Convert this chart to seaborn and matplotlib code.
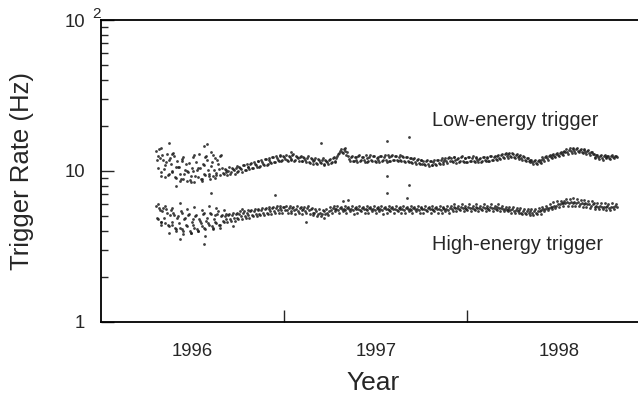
import numpy as np
import pandas as pd
import matplotlib
matplotlib.use("Agg")
import matplotlib.pyplot as plt
import seaborn as sns

# ---------------- data ----------------
start_year = 1996.30
step = 0.01          # readings every 0.01 yr; "b" readings sit half a step later

low_rate_a = [
    13.6, 10.4, 12.2, 9.3, 11.8, 10.9, 13.0, 9.6, 11.1, 9.9, 12.5, 9.0, 10.6, 9.5, 11.7, 8.9, 10.2, 8.6,
    11.3, 9.3, 10.0, 8.5, 11.5, 9.1, 10.4, 8.8, 10.9, 9.4, 11.8, 9.6, 10.8, 9.2, 12.2, 9.7, 11.2, 9.4,
    10.4, 9.5, 10.1, 9.4, 10.6, 9.8, 10.3, 9.6, 10.8, 10.0, 10.5, 9.9, 11.0, 10.2, 10.7, 10.3, 11.3, 10.5,
    11.1, 10.6, 11.6, 10.8, 11.4, 11.0, 12.0, 11.1, 11.8, 11.3, 12.4, 11.5, 12.1, 11.6, 12.7, 11.8, 12.3,
    12.8, 11.7, 12.4, 11.9, 12.9, 11.8, 12.3, 11.6, 12.6, 11.7, 12.2, 11.4, 12.5, 11.3, 12.0, 11.2, 12.2, 11.1,
    11.8, 11.3, 12.1, 11.0, 11.7, 11.2, 12.0, 11.4, 12.3, 11.6,
    12.5, 13.2, 13.9, 13.2, 14.1, 12.8, 12.6, 11.7,
    12.5, 11.6, 12.3, 11.5, 12.7, 11.8, 12.4, 11.4, 12.2, 11.7, 12.8, 11.6, 12.5, 11.5, 12.3, 11.4, 12.6, 11.8,
    12.7, 11.5, 12.4, 11.7, 12.8, 11.8, 12.5, 11.6, 12.7, 11.7, 12.4, 11.5, 12.3, 11.4, 12.2, 11.3, 12.1, 11.2,
    12.0, 11.1, 11.9,
    11.7, 10.9, 11.8, 10.8, 11.6, 11.0, 11.9, 10.9, 11.8, 11.2, 12.1, 11.2, 12.2, 11.3, 12.4,
    12.2, 11.5, 12.4, 11.3, 12.1, 11.6, 12.5, 11.4, 12.2, 11.5, 12.3, 11.6, 12.5, 11.4, 12.2, 11.5, 12.1, 11.6,
    12.4, 11.7, 12.3, 11.6, 12.5, 11.8, 12.6, 11.9, 12.7, 12.0,
    12.9, 12.1, 13.1, 12.2, 13.2, 12.3, 13.0, 12.2, 12.9, 12.0, 12.7, 11.9, 12.4, 11.7, 12.1, 11.4,
    11.8, 11.2, 11.9, 11.1, 11.8, 11.3,
    12.3, 11.7, 12.5, 11.9, 12.7, 12.1, 12.9, 12.3, 13.1, 12.5, 13.3, 12.8, 13.5,
    13.9, 13.0, 14.1, 13.2, 14.3, 13.1, 14.2, 13.3, 14.0, 13.1, 13.9, 12.9, 13.7, 12.8, 13.4,
    12.9, 12.1, 12.8, 12.0, 12.7, 11.9, 12.8, 12.1, 12.6, 12.0, 12.7, 12.1, 12.6,
]

low_rate_b = [
    11.9, 14.0, 9.8, 12.7, 10.3, 11.5, 9.4, 12.1, 10.0, 13.1, 9.1, 11.6, 10.7, 8.8, 12.0, 9.6, 11.2, 9.9,
    8.7, 10.5, 12.4, 9.2, 10.1, 12.9, 8.9, 11.1, 9.5, 12.6, 10.1, 8.8, 11.4, 10.2, 9.0, 11.9, 10.3, 12.8,
    9.7, 10.3, 9.9, 10.0, 9.6, 10.4, 10.1, 10.5, 9.8, 10.7, 10.3, 10.9, 10.1, 11.1, 10.6, 11.2, 10.4, 11.5,
    10.9, 11.6, 10.7, 11.8, 11.2, 12.0, 11.0, 12.2, 11.5, 12.3, 11.4, 12.5, 11.8, 12.6, 11.7, 12.6, 12.0,
    11.8, 12.6, 12.0, 12.7, 11.7, 12.5, 12.1, 12.4, 11.6, 12.3, 11.8, 12.2, 11.5, 12.1, 11.6, 11.9, 11.3, 12.0,
    11.5, 11.8, 11.2, 11.9, 11.4, 11.8, 11.3, 12.1, 11.5, 12.2,
    12.9, 13.5, 13.4, 14.0, 13.6, 13.3, 12.0, 12.3,
    11.7, 12.4, 11.9, 12.6, 11.6, 12.3, 11.9, 12.7, 11.5, 12.4, 11.8, 12.6, 11.7, 12.2, 11.9, 12.5, 11.6, 12.4,
    11.9, 12.7, 11.6, 12.5, 11.8, 12.6, 11.9, 12.4, 11.8, 12.5, 11.6, 12.3, 11.7, 12.1, 11.5, 12.0, 11.4, 11.9,
    11.3, 11.8, 11.2,
    11.1, 11.6, 11.2, 11.7, 11.0, 11.5, 11.1, 11.8, 11.3, 11.9, 11.4, 11.9, 11.6, 12.1, 11.7,
    11.6, 12.3, 11.8, 12.0, 11.4, 12.4, 11.7, 12.1, 11.5, 12.3, 11.7, 12.2, 11.6, 12.4, 11.8, 12.0, 11.5, 12.3,
    11.8, 12.2, 11.7, 12.5, 11.9, 12.4, 12.0, 12.6, 12.2, 12.8,
    12.4, 12.9, 12.5, 13.0, 12.6, 13.1, 12.4, 12.8, 12.3, 12.6, 12.1, 12.5, 11.8, 12.2, 11.6, 11.9,
    11.4, 11.7, 11.3, 11.6, 11.4, 11.9,
    12.0, 12.4, 12.2, 12.6, 12.4, 12.8, 12.6, 13.0, 12.8, 13.2, 13.0, 13.4, 13.3,
    13.4, 13.8, 13.5, 13.9, 13.6, 14.0, 13.5, 13.8, 13.4, 13.7, 13.3, 13.5, 13.2, 13.3, 13.0,
    12.4, 12.7, 12.3, 12.6, 12.2, 12.5, 12.3, 12.6, 12.2, 12.5, 12.3, 12.5, 12.4,
]

high_rate_a = [
    5.9, 4.8, 5.5, 4.6, 5.7, 4.5, 5.3, 4.3, 5.5, 4.4, 5.1, 4.1, 5.0, 4.2, 5.3, 4.0, 4.9, 4.3,
    5.2, 3.9, 4.8, 4.2, 5.1, 4.0, 4.7, 4.3, 5.3, 4.1, 4.9, 4.4, 5.2, 4.2, 5.1, 4.5, 5.4, 4.4,
    5.1, 4.6, 5.2, 4.6, 5.2, 4.7, 5.3, 4.7, 5.3, 4.8, 5.4, 4.8, 5.4, 4.9, 5.5, 4.9, 5.5, 5.0,
    5.6, 5.0, 5.6, 5.1, 5.7, 5.1, 5.7, 5.2, 5.8, 5.2, 5.8, 5.3, 5.9, 5.3, 5.9, 5.3, 5.8,
    5.9, 5.3, 5.9, 5.3, 5.8, 5.2, 5.9, 5.3, 5.8, 5.2, 5.8, 5.3, 5.9, 5.2, 5.7,
    5.1, 5.6, 5.0, 5.6, 5.0, 5.5, 4.9, 5.6, 5.1,
    5.8, 5.3, 5.9, 5.4, 5.9, 5.3, 5.8, 5.4, 5.9, 5.3,
    5.8, 5.4, 5.9, 5.2, 5.8, 5.3, 5.9, 5.4, 5.8, 5.3,
    5.9, 5.3, 5.8, 5.4, 5.9, 5.3, 5.8, 5.4, 5.9, 5.2,
    5.8, 5.3, 5.9, 5.4, 5.8, 5.3, 5.9, 5.4, 5.8, 5.3,
    5.9, 5.3, 5.8, 5.4, 5.9, 5.3, 5.8, 5.4, 5.9, 5.3,
    5.8, 5.3, 5.9, 5.4, 5.8, 5.3, 5.9, 5.4, 5.8, 5.3,
    5.9, 5.3, 5.8, 5.4, 5.9, 5.3,
    5.9, 5.4, 6.0, 5.4, 5.9, 5.5, 6.0, 5.4, 5.9, 5.5, 6.0, 5.4, 5.9, 5.5, 6.0, 5.4, 5.9, 5.5,
    6.0, 5.4, 5.9, 5.5, 6.0, 5.4, 5.9, 5.5, 6.0, 5.4, 5.9, 5.4, 5.8, 5.4, 5.8, 5.3, 5.8, 5.3,
    5.7, 5.3, 5.7, 5.2, 5.6, 5.2, 5.6,
    5.1, 5.6, 5.1, 5.6, 5.2, 5.7, 5.2,
    5.8, 5.4, 5.9, 5.5, 6.0, 5.6, 6.2, 5.7, 6.3, 5.8, 6.3, 5.9, 6.3,
    6.5, 5.9, 6.5, 5.9, 6.6, 5.9, 6.5, 5.9, 6.4, 5.8, 6.4, 5.8, 6.3, 5.7, 6.3,
    6.1, 5.6, 6.1, 5.6, 6.1, 5.6, 6.1, 5.5, 6.0, 5.5, 6.1, 5.6, 6.0,
]

high_rate_b = [
    4.9, 5.7, 4.6, 5.4, 4.9, 5.6, 4.4, 5.1, 4.6, 5.3, 4.2, 4.9, 4.5, 5.4, 4.1, 4.8, 4.4, 5.1,
    4.0, 4.6, 4.4, 5.0, 4.1, 4.8, 4.5, 5.2, 4.2, 4.7, 4.5, 5.3, 4.3, 4.8, 4.6, 5.2, 4.4, 5.0,
    4.7, 5.0, 4.8, 5.1, 4.8, 5.1, 4.9, 5.2, 4.9, 5.2, 5.0, 5.3, 5.0, 5.3, 5.1, 5.4, 5.1, 5.4,
    5.2, 5.5, 5.2, 5.5, 5.3, 5.6, 5.3, 5.6, 5.4, 5.7, 5.4, 5.7, 5.5, 5.7, 5.5, 5.8, 5.5,
    5.5, 5.7, 5.4, 5.7, 5.5, 5.6, 5.4, 5.7, 5.5, 5.6, 5.4, 5.7, 5.5, 5.6, 5.3,
    5.3, 5.4, 5.2, 5.3, 5.2, 5.4, 5.2, 5.3, 5.4,
    5.5, 5.7, 5.6, 5.6, 5.5, 5.7, 5.6, 5.6, 5.5, 5.7,
    5.6, 5.6, 5.5, 5.7, 5.6, 5.6, 5.5, 5.7, 5.6, 5.6,
    5.5, 5.7, 5.6, 5.6, 5.5, 5.7, 5.6, 5.6, 5.5, 5.7,
    5.6, 5.6, 5.5, 5.7, 5.6, 5.6, 5.5, 5.7, 5.6, 5.6,
    5.5, 5.7, 5.6, 5.6, 5.5, 5.7, 5.6, 5.6, 5.5, 5.7,
    5.6, 5.6, 5.5, 5.7, 5.6, 5.6, 5.5, 5.7, 5.6, 5.6,
    5.5, 5.7, 5.6, 5.6, 5.5, 5.7,
    5.6, 5.8, 5.7, 5.7, 5.6, 5.8, 5.7, 5.7, 5.6, 5.8, 5.7, 5.7, 5.6, 5.8, 5.7, 5.7, 5.6, 5.8,
    5.7, 5.7, 5.6, 5.8, 5.7, 5.7, 5.6, 5.8, 5.7, 5.7, 5.6, 5.6, 5.5, 5.6, 5.5, 5.6, 5.4, 5.5,
    5.4, 5.5, 5.3, 5.4, 5.3, 5.4, 5.3,
    5.4, 5.3, 5.4, 5.3, 5.4, 5.4, 5.5,
    5.6, 5.6, 5.7, 5.7, 5.8, 5.8, 5.9, 5.9, 6.0, 6.0, 6.1, 6.1, 6.1,
    6.2, 6.1, 6.2, 6.1, 6.2, 6.1, 6.2, 6.0, 6.1, 6.0, 6.1, 6.0, 6.0, 5.9, 6.0,
    5.8, 5.9, 5.8, 5.9, 5.8, 5.8, 5.8, 5.9, 5.7, 5.8, 5.8, 5.9, 5.8,
]

# extra scattered points (early noisy period and isolated outliers)
low_extra_year = [1996.31, 1996.33, 1996.35, 1996.37, 1996.39, 1996.41, 1996.43, 1996.45, 1996.47,
                  1996.49, 1996.51, 1996.53, 1996.55, 1996.57, 1996.59, 1996.61, 1996.63, 1996.65,
                  1996.41, 1996.56, 1996.60, 1996.37, 1996.58, 1997.20, 1997.56, 1997.68, 1997.04]
low_extra_rate = [12.5, 14.3, 9.1, 11.9, 13.0, 10.6, 8.6, 12.4, 10.0,
                  8.4, 12.7, 10.5, 8.6, 12.3, 9.3, 12.8, 9.4, 12.5,
                  8.0, 14.6, 13.4, 15.3, 15.0, 15.3, 15.9, 16.7, 13.3]

high_extra_year = [1996.31, 1996.33, 1996.35, 1996.37, 1996.39, 1996.41, 1996.43, 1996.45, 1996.47,
                   1996.49, 1996.51, 1996.53, 1996.55, 1996.57, 1996.59, 1996.61, 1996.63, 1996.65,
                   1996.67, 1996.72, 1996.77, 1996.43, 1996.56, 1996.60, 1996.95, 1997.56, 1997.56,
                   1997.68, 1997.67, 1997.32, 1997.35, 1997.12]
high_extra_rate = [6.0, 4.4, 5.9, 3.9, 5.7, 4.0, 6.1, 3.8, 5.6,
                   3.9, 5.8, 4.0, 5.5, 3.7, 5.9, 4.1, 5.7, 4.2,
                   5.5, 4.3, 5.6, 3.55, 3.3, 7.1, 6.9, 9.3, 7.1,
                   8.1, 6.6, 6.3, 6.4, 4.6]

year_ticks = [1997, 1998]
year_labels = ["1996", "1997", "1998"]
year_label_pos = [1996.5, 1997.5, 1998.5]

# ---------------- build table ----------------
def yrs(values, offset=0.0):
    return start_year + offset + step * np.arange(len(values))

df = pd.concat([
    pd.DataFrame({"year": yrs(low_rate_a), "rate": low_rate_a}),
    pd.DataFrame({"year": yrs(low_rate_b, step / 2), "rate": low_rate_b}),
    pd.DataFrame({"year": yrs(high_rate_a), "rate": high_rate_a}),
    pd.DataFrame({"year": yrs(high_rate_b, step / 2), "rate": high_rate_b}),
    pd.DataFrame({"year": low_extra_year, "rate": low_extra_rate}),
    pd.DataFrame({"year": high_extra_year, "rate": high_extra_rate}),
], ignore_index=True)

# ---------------- figure ----------------
sns.set_style("white")
plt.rcParams["font.family"] = ["Liberation Sans", "DejaVu Sans"]

fig = plt.figure(figsize=(6.38, 4.01), dpi=100)
ax = fig.add_axes([101 / 638, 1 - 322 / 401, 1 - 101 / 638 + 0.01, (322 - 20) / 401])

sns.scatterplot(data=df, x="year", y="rate", ax=ax, color="#1c1c1c", s=4, alpha=0.85,
                marker="o", linewidth=0, legend=False)

ax.set_yscale("log")
ax.set_ylim(1, 100)
ax.set_xlim(1996.0, 1996.0 + 540 / 182)

for s in ["left", "top", "bottom"]:
    ax.spines[s].set_linewidth(1.3)
    ax.spines[s].set_color("black")
ax.spines["right"].set_visible(False)

# y ticks
ax.set_yticks([1, 10, 100])
ax.set_yticklabels(["1", "10", ""])
ax.yaxis.set_minor_locator(matplotlib.ticker.LogLocator(base=10, subs=np.arange(2, 10)))
ax.yaxis.set_minor_formatter(matplotlib.ticker.NullFormatter())
ax.tick_params(axis="y", which="major", direction="in", length=9, width=1.0, pad=11.5,
               labelsize=13.3, left=True)
ax.tick_params(axis="y", which="minor", direction="in", length=5, width=1.0, left=True)

# x ticks: tick marks at year boundaries, labels at mid-year
ax.set_xticks(year_ticks)
ax.set_xticklabels(["", ""])
ax.set_xticks(year_label_pos, minor=True)
ax.set_xticklabels(year_labels, minor=True)
ax.tick_params(axis="x", which="major", direction="in", length=9, width=1.0, bottom=True)
ax.tick_params(axis="x", which="minor", length=0, pad=15, labelsize=13.3, bottom=True)

ax.set_xlabel("Year", fontsize=19, labelpad=8)
ax.set_ylabel("Trigger Rate (Hz)", fontsize=18.5, labelpad=22)

# top label "10 2"
fig.text(65 / 638, 1 - 27 / 401, "10", fontsize=13.3, ha="left", va="baseline")
fig.text(92 / 638, 1 - 18 / 401, "2", fontsize=11, ha="left", va="baseline")

fig.text(432 / 638, 1 - 120 / 401, "Low-energy trigger", fontsize=14.3, ha="left", va="center")
fig.text(432 / 638, 1 - 245 / 401, "High-energy trigger", fontsize=14.3, ha="left", va="center")

fig.savefig("out.png", dpi=100)
